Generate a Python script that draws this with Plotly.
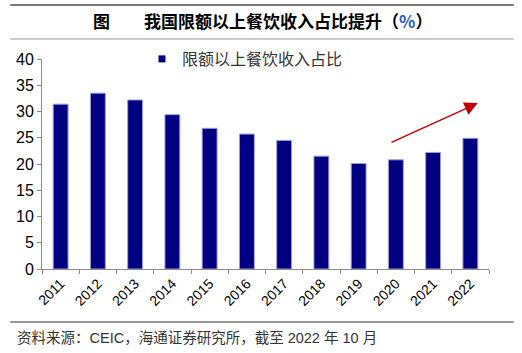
import plotly.graph_objects as go

years = ["2011", "2012", "2013", "2014", "2015", "2016", "2017", "2018", "2019", "2020", "2021", "2022"]
share = [31.4, 33.5, 32.2, 29.4, 26.8, 25.7, 24.5, 21.5, 20.1, 20.8, 22.2, 24.9]
y_ticks = [0, 5, 10, 15, 20, 25, 30, 35, 40]
series_name = "限额以上餐饮收入占比"
title_text = "图　　我国限额以上餐饮收入占比提升（<span style='color:#1f5fbf'>%</span>）"
source_text = "资料来源：CEIC，海通证券研究所，截至 2022 年 10 月"

LATIN = "Liberation Sans, Arial"
CJK = "Liberation Sans, Noto Sans CJK SC"
NAVY = "#000080"

fig = go.Figure()
fig.add_trace(go.Bar(
    x=years, y=share, name=series_name,
    marker=dict(color=NAVY, line=dict(color="#a0a0d8", width=1)),
    width=0.4, showlegend=False, legendgroup="s",
))
# legend entry with a small square symbol
fig.add_trace(go.Scatter(
    x=[None], y=[None], mode="markers", name=series_name, legendgroup="s",
    marker=dict(symbol="square", size=7, color=NAVY), showlegend=True,
))

fig.update_layout(
    width=522, height=353,
    margin=dict(l=42, r=33, t=59, b=84),
    paper_bgcolor="white", plot_bgcolor="white",
    showlegend=True,
    legend=dict(x=(142 - 42) / 447, y=1.0, xanchor="left", yanchor="middle",
                xref="paper", yref="paper",
                font=dict(family="Noto Sans CJK SC", size=16, color="#333333"),
                bgcolor="rgba(0,0,0,0)", itemwidth=30,
                itemsizing="trace"),
    bargap=0.6,
)
fig.update_xaxes(
    type="category", showline=True, linecolor="#8c8c8c", linewidth=1,
    ticks="outside", tickson="boundaries", ticklen=4, tickcolor="#8c8c8c",
    tickangle=-45, tickfont=dict(family=LATIN, size=14, color="#000000"),
    showgrid=False, zeroline=False,
)
fig.update_yaxes(
    range=[0, 40], tickvals=y_ticks, showline=True, linecolor="#8c8c8c", linewidth=1,
    ticks="outside", ticklen=4, tickcolor="#8c8c8c",
    tickfont=dict(family=LATIN, size=16, color="#000000"),
    showgrid=False, zeroline=False,
)

# red trend arrow
fig.add_annotation(
    x=11.2, y=31.6, ax=8.84, ay=24.0, xref="x", yref="y", axref="x", ayref="y",
    showarrow=True, arrowhead=2, arrowsize=1.9, arrowwidth=1.4, arrowcolor="#c00000",
    text="",
)

# header / footer rules
fig.add_shape(type="line", xref="paper", yref="paper", x0=-0.071, x1=1.0555,
              y0=1 + (59 - 5) / 210, y1=1 + (59 - 5) / 210,
              line=dict(color="#7a7a7a", width=2))
fig.add_shape(type="line", xref="paper", yref="paper", x0=-0.071, x1=1.0555,
              y0=1 + (59 - 39) / 210, y1=1 + (59 - 39) / 210,
              line=dict(color="#9a9a9a", width=1))
fig.add_shape(type="line", xref="paper", yref="paper", x0=-0.071, x1=1.0555,
              y0=-(322 - 269) / 210, y1=-(322 - 269) / 210,
              line=dict(color="#333333", width=1.2))

fig.add_annotation(text="<b>" + title_text + "</b>", xref="paper", yref="paper",
                   x=(262 - 42) / 447, y=1 + (59 - 21) / 210, xanchor="center", yanchor="middle",
                   showarrow=False, font=dict(family="Noto Sans CJK SC", size=17, color="#000000"))
fig.add_annotation(text=source_text, xref="paper", yref="paper",
                   x=(15 - 42) / 447, y=-(338 - 269) / 210, xanchor="left", yanchor="middle",
                   showarrow=False, font=dict(family=CJK, size=14.5, color="#333333"))

fig.write_html("out.html")
